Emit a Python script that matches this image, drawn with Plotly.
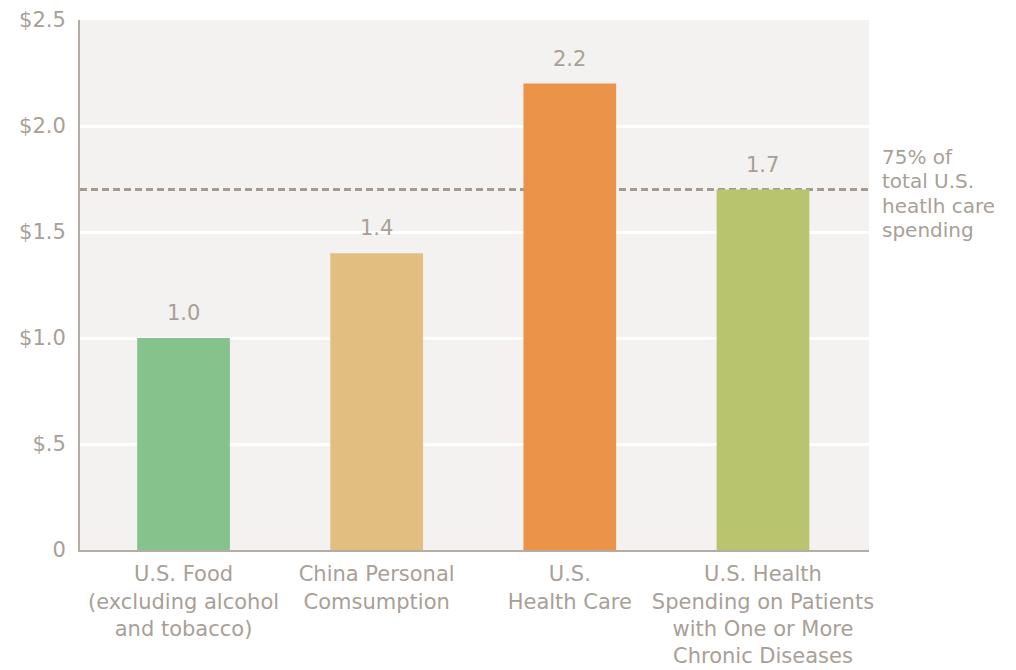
import plotly.graph_objects as go

# Spending comparison, trillions of dollars
categories = [
    "U.S. Food<br>(excluding alcohol<br>and tobacco)",
    "China Personal<br>Comsumption",
    "U.S.<br>Health Care",
    "U.S. Health<br>Spending on Patients<br>with One or More<br>Chronic Diseases",
]
values = [1.0, 1.4, 2.2, 1.7]
bar_colors = ["#86c28b", "#e2be80", "#ec934a", "#b8c46e"]

reference_level = 1.7
reference_lines = ["75% of", "total U.S.", "heatlh care", "spending"]

y_tickvals = [0, 0.5, 1.0, 1.5, 2.0, 2.5]
y_ticktext = ["0", "$.5", "$1.0", "$1.5", "$2.0", "$2.5"]

TEXT = "#a8a097"
AXIS = "#b5ada5"
FONT = "DejaVu Sans"

x_pos = list(range(len(categories)))

fig = go.Figure()
fig.add_trace(go.Bar(
    x=x_pos,
    y=values,
    width=0.48,
    marker=dict(color=bar_colors, line=dict(width=0)),
    hoverinfo="skip",
))

# value labels above bars
for xi, v in zip(x_pos, values):
    fig.add_annotation(
        x=xi, y=v, text=f"{v:.1f}", showarrow=False,
        yanchor="bottom", yshift=11,
        font=dict(family=FONT, size=21, color=TEXT),
    )

# dashed reference line across the plot
fig.add_shape(
    type="line", xref="paper", x0=0, x1=1, yref="y",
    y0=reference_level, y1=reference_level, layer="below",
    line=dict(color="#a59b91", width=3, dash="7px,4px"),
)

# reference note to the right of the plot
for i, line in enumerate(reference_lines):
    fig.add_annotation(
        xref="paper", x=1.0, y=reference_level, text=line,
        showarrow=False, xanchor="left", yanchor="middle",
        xshift=11, yshift=33 - 24.5 * i,
        font=dict(family=FONT, size=20, color=TEXT),
    )

fig.update_layout(
    width=1016, height=670,
    margin=dict(l=80, r=147, t=20, b=120),
    paper_bgcolor="white",
    plot_bgcolor="#f3f2f0",
    showlegend=False,
    font=dict(family=FONT, color=TEXT),
    xaxis=dict(
        range=[-0.536, 3.549],
        tickvals=x_pos, ticktext=categories,
        tickfont=dict(family=FONT, size=21, color=TEXT),
        showgrid=False, zeroline=False,
        showline=True, linecolor=AXIS, linewidth=2,
        ticks="", ticklabelstandoff=4, automargin=False,
    ),
    yaxis=dict(
        range=[0, 2.5],
        tickvals=y_tickvals, ticktext=y_ticktext,
        tickfont=dict(family=FONT, size=21, color=TEXT),
        showgrid=True, gridcolor="white", gridwidth=3,
        zeroline=False,
        showline=True, linecolor=AXIS, linewidth=2,
        ticks="", ticklabelstandoff=8, automargin=False,
    ),
)

fig.write_html("out.html")
